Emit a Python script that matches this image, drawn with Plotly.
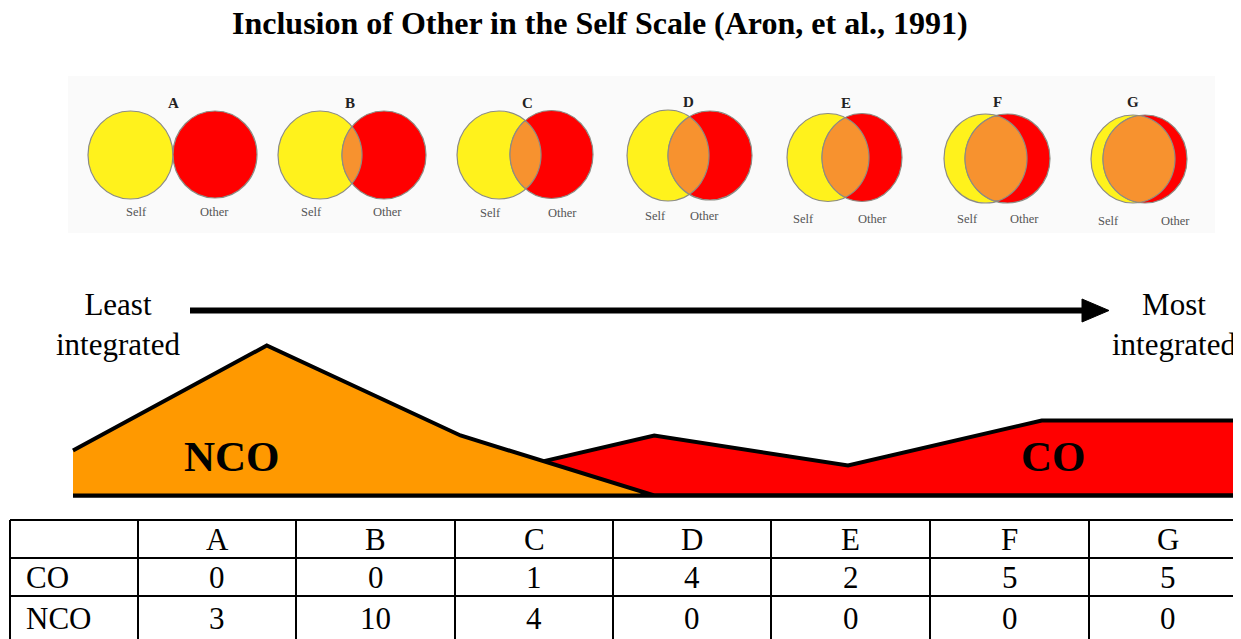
import numpy as np
import plotly.graph_objects as go

# ---------------- data ----------------
title_text = "Inclusion of Other in the Self Scale (Aron, et al., 1991)"
categories = ["A", "B", "C", "D", "E", "F", "G"]
co_counts = [0, 0, 1, 4, 2, 5, 5]
nco_counts = [3, 10, 4, 0, 0, 0, 0]
row_labels = ["CO", "NCO"]
self_label = "Self"
other_label = "Other"
least_label = "Least<br>integrated"
most_label = "Most<br>integrated"

# ---------------- layout helpers (screen pixel -> paper) ----------------
W, H = 1241, 639
OFF = 8  # page body margin
def px(x):
    return (x - OFF) / W
def py(y):
    return 1 - (y - OFF) / H

SERIF = "Liberation Serif, Times New Roman, serif"
YELLOW = "#FFF21C"
RED = "#FF0000"
LENS = "#F7922F"
AREA_ORANGE = "#FF9900"

fig = go.Figure()

def note(x, y, text, size, color="black", xanchor="center", yanchor="middle"):
    fig.add_annotation(x=px(x), y=py(y), xref="paper", yref="paper", text=text,
                       showarrow=False, xanchor=xanchor, yanchor=yanchor,
                       font=dict(family=SERIF, size=size, color=color))

# ---------------- area chart ----------------
x_first, x_last = 73.0, 1235.5
step = (x_last - x_first) / (len(categories) - 1)
base_y, unit = 495.5, 15.0
dom_top, dom_bot = 330.0, 512.0

def closed(vals):
    return categories + [categories[-1], categories[0]], list(vals) + [0, 0]

for vals, color in [(co_counts, RED), (nco_counts, AREA_ORANGE)]:
    xs, ys = closed(vals)
    fig.add_trace(go.Scatter(
        x=xs, y=ys, mode="lines", fill="toself", fillcolor=color,
        line=dict(color="black", width=4), hoverinfo="skip", showlegend=False,
    ))

note(232, 456, "<b>NCO</b>", 43)
note(1053, 456, "<b>CO</b>", 43)

# ---------------- title ----------------
note(600, 23, "<b>" + title_text + "</b>", 32)

# ---------------- Venn diagrams ----------------
shapes = []
shapes.append(dict(type="rect", xref="paper", yref="paper",
                   x0=px(68), x1=px(1215), y0=py(233), y1=py(76),
                   fillcolor="#FAFAFA", line=dict(width=0), layer="below"))

venn = [
    # yellow (cx, cy, rx, ry), red (cx, cy, rx, ry), label xy, self xy, other xy
    ((130.5, 155, 42.5, 44), (215, 154.5, 42, 43.5), (173, 103), (136, 212), (214, 212)),
    ((320, 155, 42, 44), (384, 155, 42, 44), (350, 103), (311, 212), (387, 212)),
    ((499, 155, 42, 44), (551.5, 154.5, 41.5, 44), (527, 103), (490, 213), (562, 213)),
    ((668, 155.5, 41, 45.5), (710, 155.5, 42, 44.5), (688, 102), (655, 216), (704, 216)),
    ((828, 157.5, 41, 44), (862, 157.5, 40, 44), (846, 103), (803, 219), (872, 219)),
    ((985.5, 158.5, 41.5, 44.5), (1007.5, 158.5, 42.5, 44.5), (997, 102), (967, 219), (1024, 219)),
    ((1133, 159, 42, 44), (1145, 159, 42, 44), (1133, 102), (1108, 221), (1175, 221)),
]
OUT = dict(color="#8C8C84", width=1.2)

def ell_x(e, y):
    cx, cy, rx, ry = e
    t = np.clip(1 - ((y - cy) / ry) ** 2, 0, None)
    return cx - rx * np.sqrt(t), cx + rx * np.sqrt(t)

for cat, (yel, red, lab, sp, op) in zip(categories, venn):
    for e, col in [(yel, YELLOW), (red, RED)]:
        cx, cy, rx, ry = e
        shapes.append(dict(type="circle", xref="paper", yref="paper",
                           x0=px(cx - rx), x1=px(cx + rx), y0=py(cy + ry), y1=py(cy - ry),
                           fillcolor=col, line=OUT))
    top = max(yel[1] - yel[3], red[1] - red[3])
    bot = min(yel[1] + yel[3], red[1] + red[3])
    ys = np.linspace(top, bot, 120)
    yl, yr = ell_x(yel, ys)
    rl, rr = ell_x(red, ys)
    left = np.maximum(yl, rl)
    right = np.minimum(yr, rr)
    ok = right - left > 0.3
    if ok.sum() > 3:
        ysel, lsel, rsel = ys[ok], left[ok], right[ok]
        pts = list(zip(rsel, ysel)) + list(zip(lsel[::-1], ysel[::-1]))
        path = "M " + " L ".join(f"{px(x):.5f},{py(y):.5f}" for x, y in pts) + " Z"
        shapes.append(dict(type="path", xref="paper", yref="paper", path=path,
                           fillcolor=LENS, line=OUT))
    note(lab[0], lab[1], "<b>" + cat + "</b>", 15, "#222")
    note(sp[0], sp[1], self_label, 12.5, "#555")
    note(op[0], op[1], other_label, 12.5, "#555")

# ---------------- arrow + end labels ----------------
shapes.append(dict(type="line", xref="paper", yref="paper",
                   x0=px(190), x1=px(1086), y0=py(310.5), y1=py(310.5),
                   line=dict(color="black", width=6)))
shapes.append(dict(type="path", xref="paper", yref="paper",
                   path=f"M {px(1082)},{py(299)} L {px(1109)},{py(310.5)} L {px(1082)},{py(322)} Z",
                   fillcolor="black", line=dict(color="black", width=1)))
note(118, 324, least_label, 31)
note(1174, 324, most_label, 31)

# ---------------- table ----------------
col_x = [10, 138, 296, 455, 613, 771, 930, 1089, 1247]
row_y = [520, 558, 596, 660]
for x in col_x[:-1]:
    shapes.append(dict(type="line", xref="paper", yref="paper",
                       x0=px(x), x1=px(x), y0=py(row_y[0]), y1=py(row_y[-1]),
                       line=dict(color="black", width=2)))
for y in row_y[:-1]:
    shapes.append(dict(type="line", xref="paper", yref="paper",
                       x0=px(col_x[0]), x1=px(1260), y0=py(y), y1=py(y),
                       line=dict(color="black", width=2)))

centers = [(col_x[i + 1] + col_x[i + 2]) / 2 for i in range(len(categories))]
row_centers = [539, 577, 618]
for c, cx in zip(categories, centers):
    note(cx, row_centers[0], c, 31)
for r, (lab, vals) in enumerate(zip(row_labels, [co_counts, nco_counts])):
    note(24, row_centers[r + 1], lab, 31, xanchor="left")
    for v, cx in zip(vals, centers):
        note(cx, row_centers[r + 1], str(v), 31)

fig.update_layout(
    width=W, height=H,
    margin=dict(l=0, r=0, t=0, b=0),
    paper_bgcolor="white", plot_bgcolor="rgba(0,0,0,0)",
    shapes=shapes,
    showlegend=False,
    xaxis=dict(domain=[0, 1], type="category", categoryorder="array", categoryarray=categories,
               range=[(OFF - x_first) / step, (OFF + W - x_first) / step],
               visible=False, fixedrange=True),
    yaxis=dict(domain=[py(dom_bot), py(dom_top)],
               range=[(base_y - dom_bot) / unit, (base_y - dom_top) / unit],
               visible=False, fixedrange=True),
)

fig.write_html("out.html")
